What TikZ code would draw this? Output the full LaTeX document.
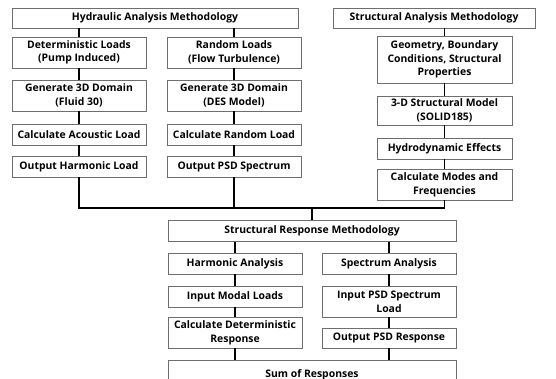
\documentclass[tikz,border=0pt]{standalone}
\usepackage{fontspec}
\setmainfont{Open Sans}
\definecolor{boxline}{RGB}{110, 110, 110}

\begin{document}
\begin{tikzpicture}[x=1pt, y=-1pt,
	box/.style={draw=boxline, line width=0.7pt, fill=white, inner sep=0pt, align=center,
		font=\fontsize{10.4}{13.6}\selectfont\bfseries},
	link/.style={draw=black, line width=1.3pt}]

\useasboundingbox (0,0) rectangle (556,379);
\clip (0,0) rectangle (556,379);

%%% HYDRAULIC

\node[box, minimum width=286, minimum height=20] (hyd) at (155,18) {Hydraulic Analysis Methodology};

\node[box, minimum width=134, minimum height=31] (det) at (79,52.5) {Deterministic Loads\\(Pump Induced)};
\node[box, minimum width=134, minimum height=31] (gen1) at (79,95.5) {Generate 3D Domain\\(Fluid 30)};
\node[box, minimum width=134, minimum height=21] (acou) at (79,134.5) {Calculate Acoustic Load};
\node[box, minimum width=134, minimum height=21] (outharm) at (79,166.5) {Output Harmonic Load};

\node[box, minimum width=134, minimum height=31] (rnd) at (234,52.5) {Random Loads\\(Flow Turbulence)};
\node[box, minimum width=134, minimum height=31] (gen2) at (234,95.5) {Generate 3D Domain\\(DES Model)};
\node[box, minimum width=134, minimum height=21] (rndld) at (234,134.5) {Calculate Random Load};
\node[box, minimum width=134, minimum height=21] (outpsd) at (234,166.5) {Output PSD Spectrum};

%%% STRUCTURAL

\node[box, minimum width=202, minimum height=20] (struct) at (434,18) {Structural Analysis Methodology};

\node[box, minimum width=135, minimum height=47] (geo) at (444.5,59.5) {Geometry, Boundary\\Conditions, Structural\\Properties};
\node[box, minimum width=135, minimum height=29] (solid) at (444.5,110.5) {3-D Structural Model\\(SOLID185)};
\node[box, minimum width=135, minimum height=21] (hydro) at (444.5,148.5) {Hydrodynamic Effects};
\node[box, minimum width=135, minimum height=31] (modes) at (444.5,184.5) {Calculate Modes and\\Frequencies};

%%% RESPONSE

\node[box, minimum width=288, minimum height=21] (srm) at (312,231) {Structural Response Methodology};

\node[box, minimum width=134, minimum height=21] (harm) at (235,263.5) {Harmonic Analysis};
\node[box, minimum width=134, minimum height=21] (modal) at (235,296.5) {Input Modal Loads};
\node[box, minimum width=134, minimum height=31] (calcdet) at (235,332.5) {Calculate Deterministic\\Response};

\node[box, minimum width=134, minimum height=21] (spec) at (389,263.5) {Spectrum Analysis};
\node[box, minimum width=134, minimum height=31] (inpsd) at (389,301.5) {Input PSD Spectrum\\Load};
\node[box, minimum width=134, minimum height=20] (outresp) at (389,338) {Output PSD Response};

\node[box, minimum width=288, minimum height=30] (sum) at (312,375) {Sum of Responses};

%%% LINKS

\draw[link] (det.north |- hyd.south) -- (det.north);
\draw[link] (det) -- (gen1);
\draw[link] (gen1) -- (acou);
\draw[link] (acou) -- (outharm);

\draw[link] (rnd.north |- hyd.south) -- (rnd.north);
\draw[link] (rnd) -- (gen2);
\draw[link] (gen2) -- (rndld);
\draw[link] (rndld) -- (outpsd);

\draw[link] (geo.north |- struct.south) -- (geo.north);
\draw[link] (geo) -- (solid);
\draw[link] (solid) -- (hydro);
\draw[link] (hydro) -- (modes);

\coordinate (bus) at (0,208);
\draw[link] (outharm.south) |- (modes.south |- bus) -- (modes.south);
\draw[link] (outpsd.south) -- (outpsd.south |- bus);
\draw[link] (srm.north |- bus) -- (srm.north);

\draw[link] (harm.north |- srm.south) -- (harm.north);
\draw[link] (harm) -- (modal);
\draw[link] (modal) -- (calcdet);
\draw[link] (calcdet) -- (calcdet.south |- sum.north);

\draw[link] (spec.north |- srm.south) -- (spec.north);
\draw[link] (spec) -- (inpsd);
\draw[link] (inpsd) -- (outresp);
\draw[link] (outresp) -- (outresp.south |- sum.north);

\end{tikzpicture}
\end{document}
